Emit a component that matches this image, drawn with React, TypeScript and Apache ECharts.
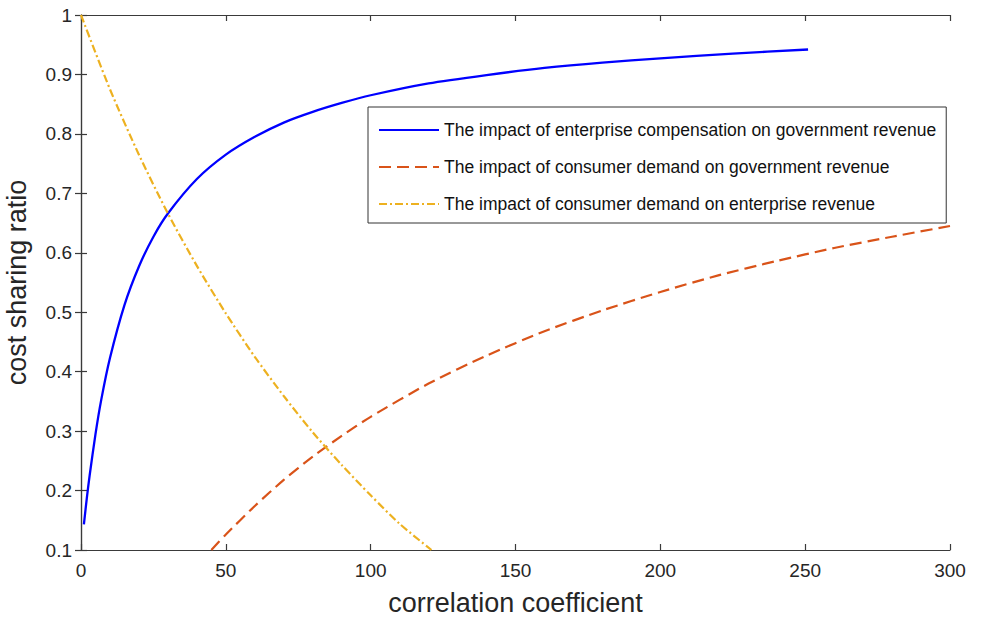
import React, { useEffect, useRef } from "react";
import * as echarts from "echarts";

const seriesNames = [
  "The impact of enterprise compensation on government revenue",
  "The impact of consumer demand on government revenue",
  "The impact of consumer demand on enterprise revenue",
];

const blueX = [1, 2, 3, 5, 7, 10, 15, 20, 25, 30, 40, 50, 60, 70, 80, 90, 100, 120, 140, 160, 180, 200, 225, 251];
const blueY = [0.143, 0.187, 0.226, 0.295, 0.353, 0.423, 0.512, 0.577, 0.627, 0.666, 0.724, 0.765, 0.795, 0.819, 0.837, 0.852, 0.865, 0.885, 0.899, 0.911, 0.92, 0.927, 0.935, 0.942];

const orangeX = [45, 50, 60, 70, 80, 90, 100, 120, 140, 160, 180, 200, 220, 240, 260, 280, 300];
const orangeY = [0.1, 0.126, 0.174, 0.218, 0.257, 0.292, 0.324, 0.38, 0.427, 0.468, 0.503, 0.534, 0.562, 0.586, 0.608, 0.627, 0.645];

const yellowX = [0, 10, 20, 30, 40, 50, 60, 70, 80, 90, 100, 110, 121];
const yellowY = [1.0, 0.875, 0.765, 0.666, 0.578, 0.498, 0.425, 0.359, 0.298, 0.243, 0.192, 0.144, 0.1];

const xTicks = { min: 0, max: 300, interval: 50 };
const yTicks = { min: 0.1, max: 1, interval: 0.1 };

const FONT = "'Liberation Sans', Arial, Helvetica, sans-serif";
const AXIS_COLOR = "#3a3a3a";
const TEXT_COLOR = "#262626";

const zip = (xs: number[], ys: number[]) => xs.map((x, i) => [x, ys[i]]);

export default function App() {
  const ref = useRef<HTMLDivElement>(null);
  useEffect(() => {
    if (!ref.current) return;
    const chart = echarts.init(ref.current, null, { renderer: "svg" });
    const axisLine = { show: true, lineStyle: { color: AXIS_COLOR, width: 1.2 } };
    const axisTick = { show: true, inside: true, length: 6, lineStyle: { color: AXIS_COLOR, width: 1.2 } };
    chart.setOption({
      animation: false,
      backgroundColor: "#ffffff",
      grid: { left: 81, right: 31, top: 15, bottom: 70, containLabel: false, outerBoundsMode: "none" },
      legend: {
        orient: "vertical",
        left: 368,
        top: 107,
        padding: [14, 10, 10, 10],
        itemGap: 19,
        itemWidth: 60,
        itemHeight: 14,
        borderColor: "#333333",
        borderWidth: 1,
        backgroundColor: "#ffffff",
        itemStyle: { opacity: 0 },
        textStyle: { fontFamily: FONT, fontSize: 17.5, color: "#111111" },
        data: seriesNames,
      },
      xAxis: [
        {
          type: "value",
          ...xTicks,
          name: "correlation coefficient",
          nameLocation: "middle",
          nameGap: 39,
          nameTextStyle: { fontFamily: FONT, fontSize: 27, color: TEXT_COLOR },
          axisLine,
          axisTick,
          splitLine: { show: false },
          axisLabel: { fontFamily: FONT, fontSize: 19, color: TEXT_COLOR, margin: 11 },
        },
        {
          type: "value",
          ...xTicks,
          position: "top",
          axisLine,
          axisTick,
          splitLine: { show: false },
          axisLabel: { show: false },
        },
      ],
      yAxis: [
        {
          type: "value",
          ...yTicks,
          name: "cost sharing ratio",
          nameLocation: "middle",
          nameGap: 51,
          nameTextStyle: { fontFamily: FONT, fontSize: 27, color: TEXT_COLOR },
          axisLine,
          axisTick,
          splitLine: { show: false },
          axisLabel: {
            fontFamily: FONT,
            fontSize: 19,
            color: TEXT_COLOR,
            margin: 9,
            formatter: (v: number) => String(+v.toFixed(1)),
          },
        },
        {
          type: "value",
          ...yTicks,
          position: "right",
          axisLine,
          axisTick,
          splitLine: { show: false },
          axisLabel: { show: false },
        },
      ],
      series: [
        {
          name: seriesNames[0],
          type: "line",
          data: zip(blueX, blueY),
          showSymbol: false,
          symbol: "none",
          smooth: 0.25,
          lineStyle: { color: "#0000ff", width: 2.3 },
          itemStyle: { color: "#0000ff" },
        },
        {
          name: seriesNames[1],
          type: "line",
          data: zip(orangeX, orangeY),
          showSymbol: false,
          symbol: "none",
          smooth: 0.25,
          lineStyle: { color: "#d95319", width: 2.2, type: [12, 6] },
          itemStyle: { color: "#d95319" },
        },
        {
          name: seriesNames[2],
          type: "line",
          data: zip(yellowX, yellowY),
          showSymbol: false,
          symbol: "none",
          smooth: 0.25,
          lineStyle: { color: "#edb120", width: 2.2, type: [8, 3, 2, 3] },
          itemStyle: { color: "#edb120" },
        },
      ],
    });
    return () => chart.dispose();
  }, []);
  return (
    <div
      ref={ref}
      style={{ position: "absolute", left: 0, top: 0, width: 981, height: 620, background: "#fff" }}
    />
  );
}
